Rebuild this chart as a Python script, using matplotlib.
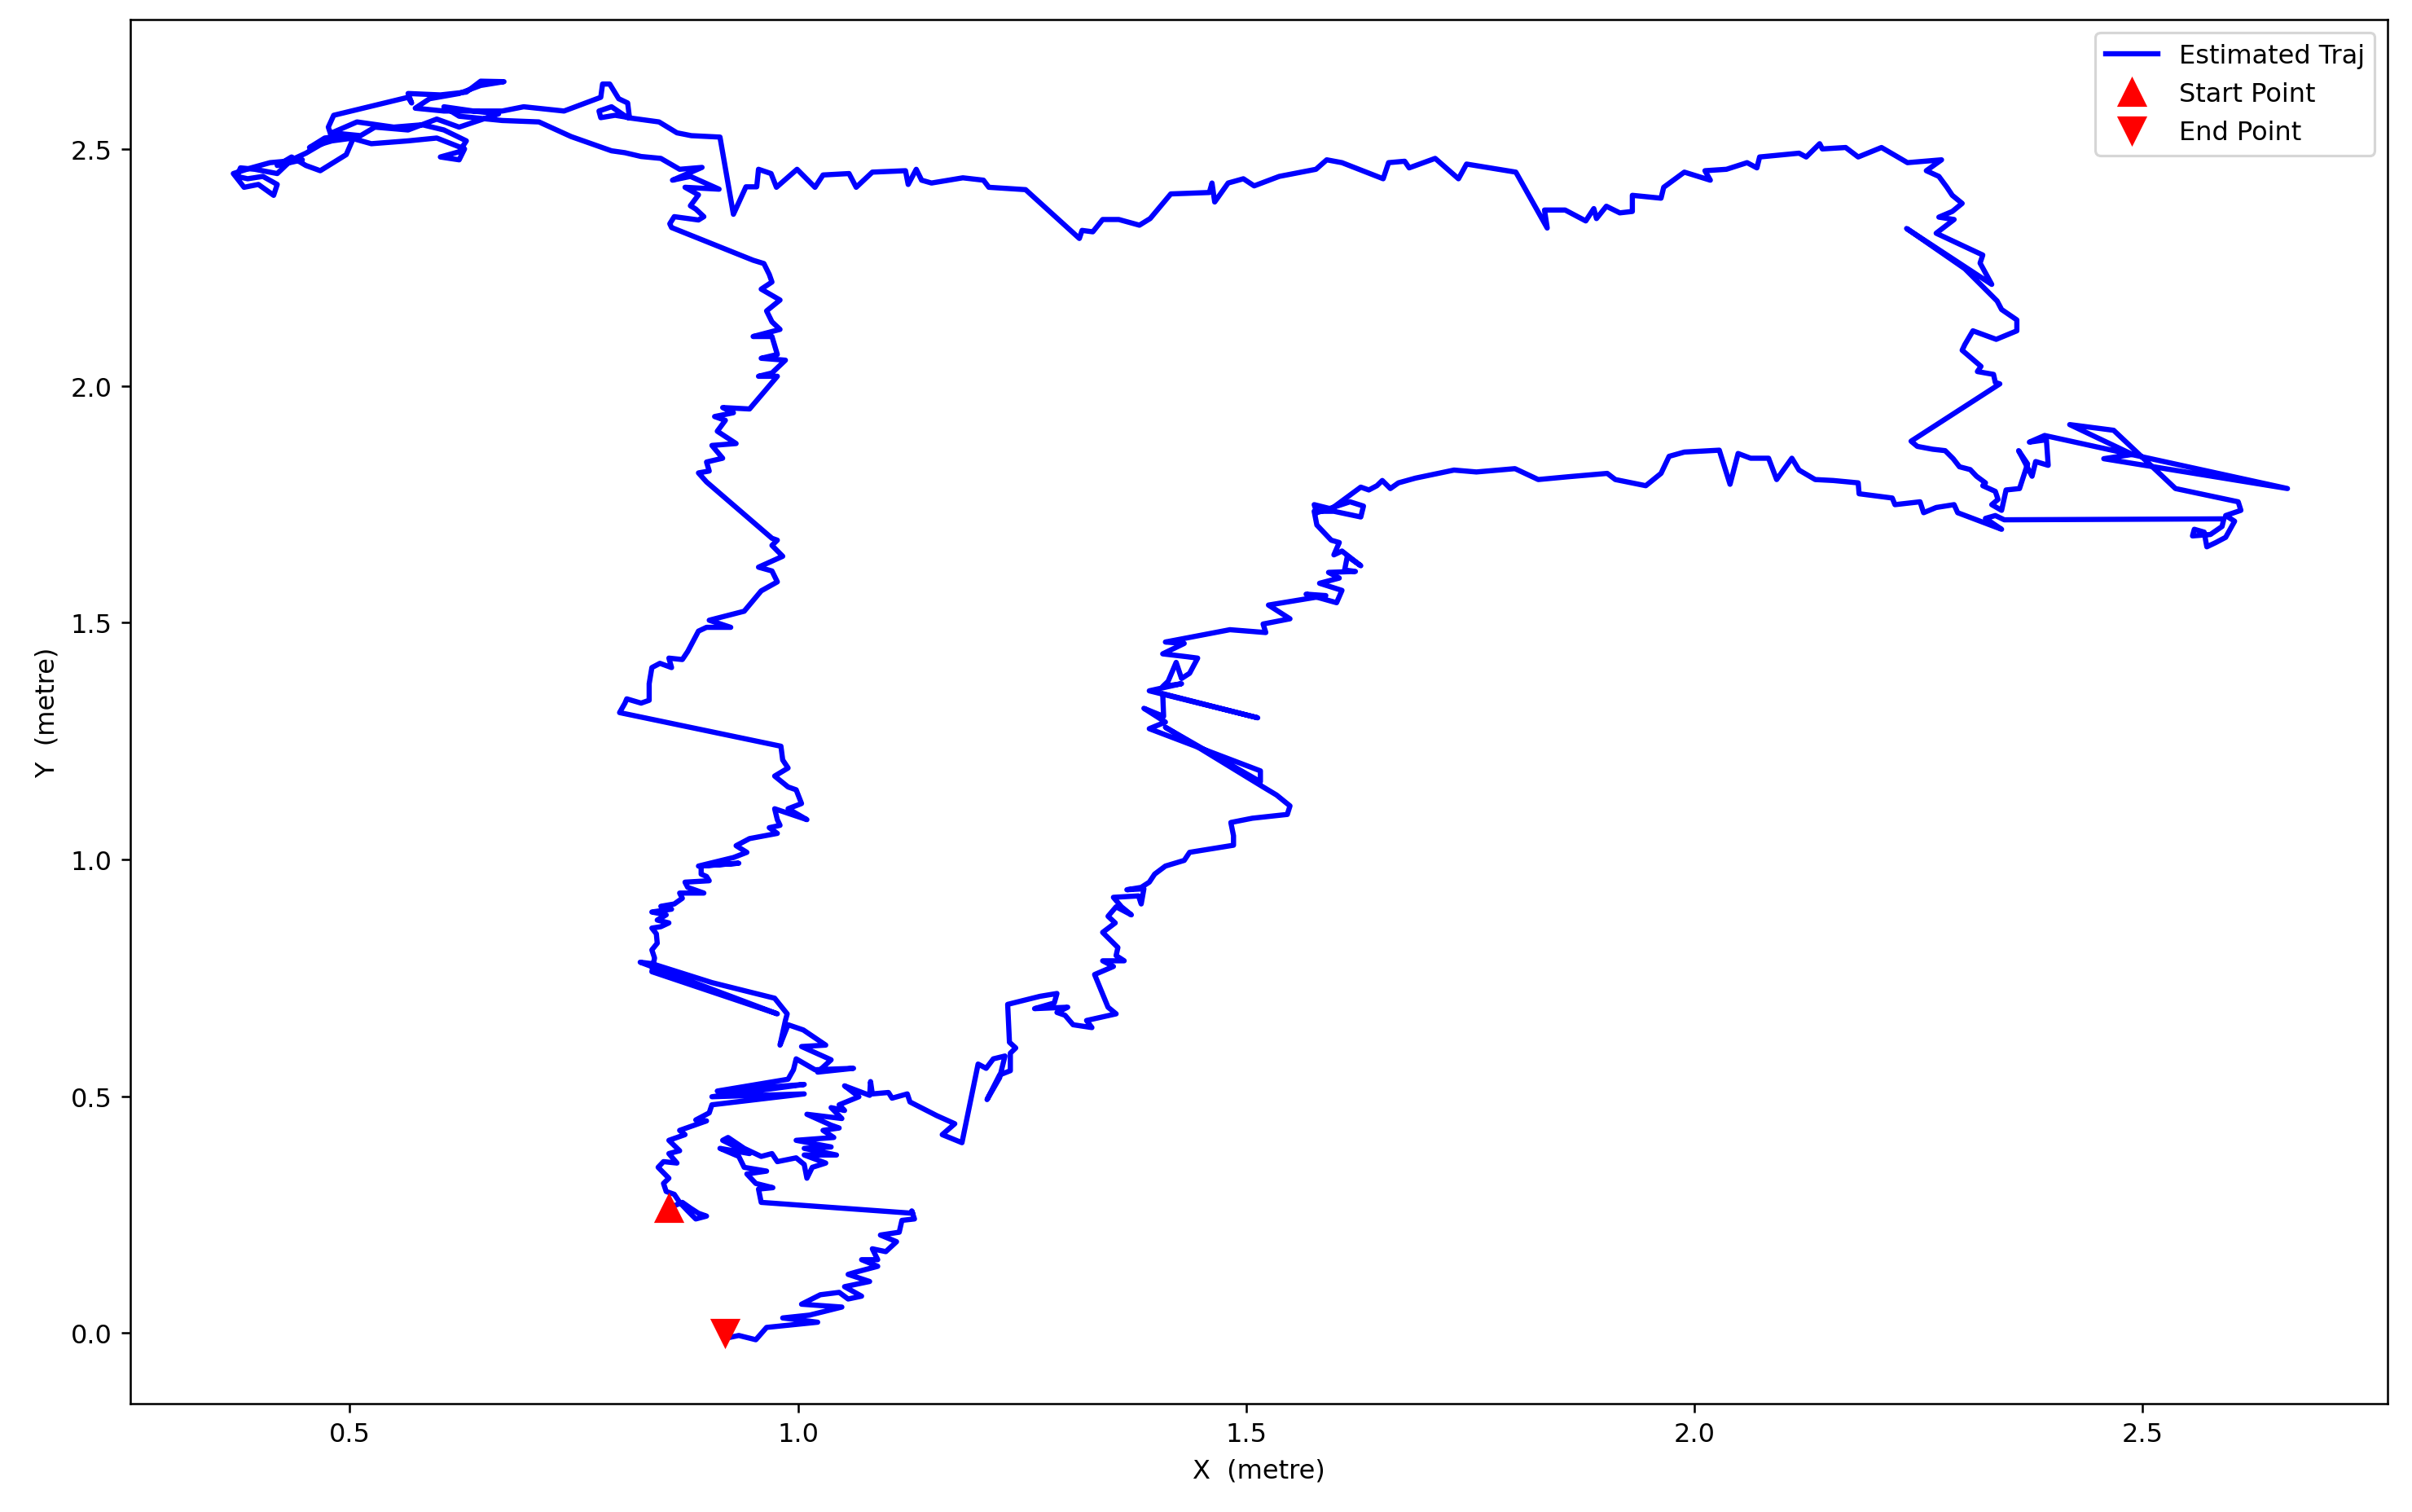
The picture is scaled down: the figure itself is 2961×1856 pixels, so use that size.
import matplotlib
matplotlib.use("Agg")
import matplotlib.pyplot as plt
import numpy as np

# =========================
# TRAJECTORY DATA (metre), in path order
# =========================

# start and the small loop around it
tramo_inicio = [
    (0.856, 0.264), (0.871, 0.276), (0.880, 0.264), (0.889, 0.253), (0.898, 0.247),
    (0.886, 0.241), (0.877, 0.258), (0.868, 0.276), (0.862, 0.293), (0.853, 0.299),
    (0.850, 0.316), (0.856, 0.327), (0.844, 0.350), (0.850, 0.362), (0.865, 0.359),
    (0.856, 0.379), (0.868, 0.385), (0.856, 0.407), (0.874, 0.419), (0.868, 0.428),
    (0.880, 0.436), (0.898, 0.448), (0.886, 0.450), (0.901, 0.465), (0.904, 0.482),
    (1.007, 0.505), (0.904, 0.499), (1.007, 0.525), (0.910, 0.511), (0.989, 0.536),
    (0.995, 0.556), (0.998, 0.579), (1.019, 0.556), (1.062, 0.559), (1.022, 0.551),
    (1.037, 0.577), (1.004, 0.605), (1.031, 0.608), (1.006, 0.640), (0.989, 0.651),
    (0.980, 0.608), (0.986, 0.660), (0.988, 0.674), (0.974, 0.707), (0.904, 0.740),
    (0.837, 0.780), (0.824, 0.783), (0.977, 0.674), (0.837, 0.763), (0.840, 0.792),
]

# left side going up
tramo_izquierdo = [
    (0.837, 0.809), (0.843, 0.823), (0.842, 0.843), (0.837, 0.855), (0.847, 0.858),
    (0.856, 0.866), (0.843, 0.872), (0.853, 0.883), (0.837, 0.889), (0.859, 0.895),
    (0.847, 0.901), (0.862, 0.906), (0.871, 0.918), (0.868, 0.929), (0.895, 0.929),
    (0.877, 0.941), (0.874, 0.952), (0.901, 0.955), (0.898, 0.964), (0.892, 0.969),
    (0.892, 0.986), (0.934, 0.992), (0.889, 0.986), (0.928, 1.004), (0.943, 1.015),
    (0.931, 1.029), (0.946, 1.044), (0.977, 1.055), (0.968, 1.067), (0.980, 1.072),
    (0.977, 1.084), (0.974, 1.107), (1.010, 1.084), (0.989, 1.107), (1.004, 1.118),
    (0.998, 1.147), (0.989, 1.153), (0.974, 1.176), (0.989, 1.193), (0.983, 1.210),
    (0.981, 1.239), (0.801, 1.310), (0.807, 1.330), (0.809, 1.339), (0.825, 1.330),
    (0.834, 1.336), (0.834, 1.371), (0.837, 1.405), (0.846, 1.414), (0.859, 1.405),
    (0.856, 1.425), (0.871, 1.422), (0.877, 1.439), (0.889, 1.482), (0.898, 1.490),
    (0.925, 1.490), (0.901, 1.505), (0.940, 1.524), (0.959, 1.567), (0.977, 1.586),
    (0.971, 1.609), (0.956, 1.617), (0.983, 1.640), (0.971, 1.663), (0.977, 1.674),
    (0.971, 1.678), (0.898, 1.797), (0.889, 1.816), (0.901, 1.820), (0.898, 1.839),
    (0.916, 1.847), (0.904, 1.874), (0.931, 1.878), (0.910, 1.904), (0.919, 1.927),
    (0.907, 1.935), (0.928, 1.943), (0.916, 1.954), (0.946, 1.951), (0.977, 2.020),
    (0.956, 2.020), (0.971, 2.027), (0.986, 2.054), (0.959, 2.058), (0.977, 2.066),
    (0.971, 2.104), (0.950, 2.104), (0.980, 2.119), (0.971, 2.135), (0.965, 2.158),
    (0.980, 2.181), (0.959, 2.204), (0.971, 2.219), (0.968, 2.235), (0.962, 2.258),
    (0.950, 2.265), (0.859, 2.334), (0.857, 2.342), (0.862, 2.357), (0.889, 2.350),
    (0.895, 2.357), (0.886, 2.373), (0.880, 2.380), (0.889, 2.403), (0.874, 2.419),
    (0.912, 2.415), (0.880, 2.442), (0.860, 2.434), (0.893, 2.461), (0.868, 2.457),
    (0.847, 2.480), (0.825, 2.484), (0.807, 2.492), (0.792, 2.496), (0.747, 2.526),
]

# tangle in the top left corner
tramo_esquina = [
    (0.711, 2.557), (0.670, 2.560), (0.622, 2.569), (0.605, 2.589), (0.638, 2.580),
    (0.666, 2.574), (0.622, 2.546), (0.597, 2.563), (0.565, 2.540), (0.528, 2.546),
    (0.512, 2.528), (0.480, 2.534), (0.508, 2.557), (0.549, 2.546), (0.581, 2.551),
    (0.605, 2.540), (0.630, 2.517), (0.622, 2.494), (0.601, 2.483), (0.622, 2.477),
    (0.628, 2.500), (0.597, 2.523), (0.565, 2.517), (0.524, 2.511), (0.492, 2.528),
    (0.472, 2.523), (0.455, 2.503), (0.480, 2.517), (0.504, 2.523), (0.496, 2.488),
    (0.467, 2.454), (0.451, 2.465), (0.435, 2.483), (0.419, 2.465), (0.447, 2.477),
    (0.411, 2.471), (0.390, 2.460), (0.370, 2.448), (0.382, 2.419), (0.398, 2.425),
    (0.415, 2.402), (0.419, 2.425), (0.403, 2.442), (0.386, 2.437), (0.374, 2.442),
    (0.378, 2.460), (0.394, 2.457), (0.419, 2.448), (0.435, 2.477), (0.451, 2.491),
    (0.480, 2.523), (0.476, 2.546), (0.482, 2.571), (0.565, 2.609), (0.569, 2.597),
    (0.565, 2.617), (0.601, 2.614), (0.630, 2.620), (0.646, 2.643), (0.672, 2.642),
    (0.646, 2.634), (0.622, 2.617), (0.589, 2.606), (0.573, 2.586), (0.605, 2.580),
    (0.670, 2.580), (0.694, 2.589), (0.739, 2.580), (0.763, 2.597), (0.780, 2.609),
    (0.782, 2.637), (0.790, 2.637), (0.800, 2.606), (0.810, 2.597), (0.812, 2.566),
    (0.796, 2.571), (0.780, 2.566), (0.778, 2.580), (0.792, 2.589), (0.810, 2.566),
    (0.845, 2.557), (0.865, 2.534), (0.881, 2.528), (0.913, 2.525), (0.928, 2.362),
    (0.942, 2.420), (0.954, 2.420), (0.956, 2.457), (0.970, 2.448),
]

# top edge, left to right
tramo_superior = [
    (0.976, 2.419), (0.999, 2.457), (1.019, 2.419), (1.028, 2.445), (1.057, 2.448),
    (1.065, 2.419), (1.083, 2.451), (1.120, 2.454), (1.123, 2.425), (1.132, 2.457),
    (1.138, 2.434), (1.149, 2.428), (1.184, 2.439), (1.207, 2.434), (1.213, 2.419),
    (1.230, 2.417), (1.254, 2.414), (1.314, 2.311), (1.317, 2.328), (1.329, 2.325),
    (1.340, 2.351), (1.358, 2.351), (1.381, 2.339), (1.393, 2.353), (1.416, 2.405),
    (1.459, 2.408), (1.462, 2.428), (1.465, 2.388), (1.480, 2.428), (1.497, 2.437),
    (1.509, 2.422), (1.537, 2.442), (1.578, 2.457), (1.590, 2.477), (1.607, 2.471),
    (1.653, 2.437), (1.659, 2.471), (1.677, 2.474), (1.682, 2.460), (1.711, 2.480),
    (1.737, 2.437), (1.746, 2.468), (1.801, 2.451), (1.836, 2.333), (1.833, 2.371),
    (1.856, 2.371), (1.879, 2.348), (1.888, 2.374), (1.891, 2.353), (1.902, 2.379),
    (1.917, 2.365), (1.931, 2.368), (1.931, 2.402), (1.963, 2.396), (1.966, 2.419),
    (1.989, 2.451), (2.018, 2.434), (2.012, 2.454), (2.036, 2.457), (2.059, 2.471),
    (2.070, 2.460), (2.073, 2.483), (2.117, 2.491), (2.125, 2.483), (2.140, 2.511),
    (2.143, 2.500), (2.169, 2.503), (2.183, 2.483), (2.209, 2.503), (2.238, 2.471),
    (2.276, 2.477), (2.259, 2.454), (2.273, 2.442), (2.282, 2.419), (2.288, 2.402),
    (2.299, 2.385), (2.288, 2.368), (2.273, 2.356), (2.290, 2.351), (2.270, 2.322),
    (2.322, 2.276), (2.319, 2.259), (2.332, 2.214), (2.237, 2.332), (2.302, 2.247),
    (2.338, 2.179), (2.343, 2.161), (2.360, 2.139), (2.360, 2.116), (2.337, 2.098),
    (2.311, 2.116), (2.302, 2.087), (2.299, 2.075), (2.320, 2.041),
]

# right side and the spike to the right
tramo_derecho = [
    (2.316, 2.030), (2.334, 2.024), (2.336, 2.007), (2.341, 2.004), (2.242, 1.883),
    (2.249, 1.872), (2.266, 1.866), (2.280, 1.863), (2.289, 1.846), (2.296, 1.829),
    (2.308, 1.823), (2.315, 1.809), (2.325, 1.795), (2.322, 1.789), (2.336, 1.777),
    (2.339, 1.760), (2.332, 1.749), (2.343, 1.737), (2.348, 1.780), (2.363, 1.783),
    (2.372, 1.835), (2.362, 1.863), (2.377, 1.809), (2.381, 1.840), (2.395, 1.832),
    (2.393, 1.886), (2.374, 1.881), (2.391, 1.895), (2.662, 1.783), (2.457, 1.846),
    (2.489, 1.855), (2.419, 1.918), (2.468, 1.906), (2.537, 1.783), (2.607, 1.755),
    (2.610, 1.737), (2.593, 1.726), (2.603, 1.714), (2.593, 1.680), (2.582, 1.669),
    (2.572, 1.660), (2.569, 1.691), (2.558, 1.697), (2.556, 1.683), (2.576, 1.686),
    (2.589, 1.703), (2.591, 1.719), (2.346, 1.717), (2.336, 1.726), (2.325, 1.720),
    (2.343, 1.697), (2.294, 1.732), (2.290, 1.749), (2.270, 1.743), (2.256, 1.732),
    (2.252, 1.755), (2.224, 1.749), (2.221, 1.763), (2.184, 1.772), (2.183, 1.795),
    (2.155, 1.800),
]

# middle band going back to the left
tramo_medio = [
    (2.135, 1.802), (2.117, 1.822), (2.109, 1.847), (2.092, 1.802), (2.083, 1.847),
    (2.063, 1.847), (2.049, 1.857), (2.040, 1.792), (2.028, 1.864), (1.989, 1.860),
    (1.972, 1.851), (1.963, 1.815), (1.946, 1.789), (1.912, 1.802), (1.903, 1.815),
    (1.860, 1.808), (1.826, 1.802), (1.800, 1.825), (1.757, 1.818), (1.732, 1.822),
    (1.689, 1.805), (1.670, 1.795), (1.661, 1.783), (1.652, 1.800), (1.646, 1.789),
    (1.637, 1.780), (1.628, 1.786), (1.595, 1.740), (1.576, 1.749), (1.579, 1.732),
    (1.616, 1.755), (1.631, 1.746), (1.628, 1.723), (1.598, 1.735), (1.576, 1.735),
    (1.579, 1.706), (1.595, 1.674), (1.604, 1.669), (1.598, 1.643), (1.607, 1.651),
    (1.628, 1.620), (1.613, 1.640), (1.610, 1.611), (1.622, 1.608), (1.592, 1.606),
    (1.604, 1.594), (1.582, 1.583), (1.607, 1.568), (1.601, 1.542), (1.567, 1.560),
    (1.589, 1.557), (1.525, 1.537), (1.549, 1.508), (1.519, 1.497), (1.522, 1.479),
    (1.482, 1.485), (1.410, 1.459), (1.431, 1.456), (1.407, 1.434), (1.434, 1.428),
    (1.446, 1.425), (1.437, 1.393), (1.428, 1.382), (1.422, 1.416), (1.413, 1.376),
    (1.407, 1.365), (1.428, 1.371), (1.392, 1.356), (1.513, 1.299), (1.407, 1.350),
    (1.408, 1.302), (1.386, 1.319), (1.410, 1.290), (1.392, 1.276), (1.516, 1.187),
    (1.516, 1.164), (1.410, 1.279), (1.519, 1.153), (1.534, 1.136), (1.549, 1.113),
    (1.546, 1.095), (1.507, 1.087), (1.483, 1.078), (1.486, 1.050), (1.486, 1.030),
]

# descent towards the start area
tramo_bajada = [
    (1.437, 1.015), (1.431, 0.998), (1.410, 0.986), (1.398, 0.969), (1.392, 0.952),
    (1.383, 0.941), (1.367, 0.936), (1.386, 0.938), (1.383, 0.906), (1.380, 0.923),
    (1.352, 0.920), (1.361, 0.900), (1.372, 0.883), (1.355, 0.900), (1.346, 0.880),
    (1.354, 0.866), (1.340, 0.846), (1.357, 0.814), (1.355, 0.797), (1.364, 0.786),
    (1.340, 0.786), (1.352, 0.774), (1.331, 0.757), (1.346, 0.688), (1.355, 0.674),
    (1.322, 0.660), (1.328, 0.645), (1.307, 0.651), (1.298, 0.671), (1.289, 0.677),
    (1.301, 0.688), (1.264, 0.685), (1.286, 0.697), (1.289, 0.717), (1.270, 0.711),
    (1.234, 0.694), (1.236, 0.614), (1.243, 0.602), (1.237, 0.591), (1.237, 0.554),
    (1.225, 0.545), (1.211, 0.493), (1.225, 0.539), (1.231, 0.585), (1.218, 0.579),
    (1.210, 0.559), (1.201, 0.568), (1.183, 0.402), (1.161, 0.419), (1.175, 0.442),
    (1.155, 0.459),
]

# last part, down to the end point
tramo_final = [
    (1.125, 0.488), (1.122, 0.505), (1.105, 0.496), (1.101, 0.508), (1.083, 0.505),
    (1.081, 0.531), (1.080, 0.502), (1.052, 0.522), (1.068, 0.499), (1.046, 0.482),
    (1.052, 0.470), (1.037, 0.476), (1.049, 0.453), (1.010, 0.462), (1.037, 0.439),
    (1.046, 0.433), (1.028, 0.428), (1.040, 0.413), (0.998, 0.407), (1.037, 0.393),
    (1.007, 0.390), (1.043, 0.376), (1.007, 0.376), (1.031, 0.359), (1.016, 0.350),
    (1.010, 0.327), (1.007, 0.356), (0.998, 0.370), (0.977, 0.362), (0.971, 0.379),
    (0.959, 0.373), (0.940, 0.390), (0.922, 0.413), (0.916, 0.407), (0.946, 0.379),
    (0.913, 0.390), (0.934, 0.373), (0.940, 0.350), (0.965, 0.342), (0.943, 0.336),
    (0.953, 0.316), (0.972, 0.307), (0.956, 0.304), (0.959, 0.276), (1.128, 0.253),
    (1.127, 0.258), (1.130, 0.241), (1.116, 0.238), (1.113, 0.213), (1.092, 0.207),
    (1.110, 0.193), (1.098, 0.172), (1.083, 0.178), (1.089, 0.155), (1.071, 0.155),
    (1.089, 0.141), (1.065, 0.129), (1.056, 0.124), (1.080, 0.109), (1.052, 0.098),
    (1.071, 0.078), (1.056, 0.072), (1.046, 0.086), (1.025, 0.081), (1.004, 0.061),
    (1.049, 0.055), (1.013, 0.038), (0.983, 0.032), (1.022, 0.023), (0.965, 0.012),
    (0.953, -0.014), (0.934, -0.005), (0.919, -0.011), (0.919, 0.000),
]

tramos = [tramo_inicio, tramo_izquierdo, tramo_esquina, tramo_superior,
          tramo_derecho, tramo_medio, tramo_bajada, tramo_final]

traj = np.array([p for t in tramos for p in t])
x = traj[:, 0]
y = traj[:, 1]

# =========================
# GRAFICA
# =========================

dpi = 230
fig = plt.figure(figsize=(2961 / dpi, 1857 / dpi), dpi=dpi)
ax = fig.add_axes([0.054, 0.0716, 0.936, 0.9149])

ax.plot(x, y, 'b-', linewidth=2, label='Estimated Traj')
ax.plot(x[0], y[0], 'r^', markersize=10, label='Start Point')
ax.plot(x[-1], y[-1], 'rv', markersize=10, label='End Point')

ax.set_xlim(0.255, 2.774)
ax.set_ylim(-0.149, 2.773)

ax.set_xlabel('X  (metre)')
ax.set_ylabel('Y  (metre)')

ax.legend(loc='upper right')

fig.savefig('out.png', dpi=dpi)
plt.close(fig)
